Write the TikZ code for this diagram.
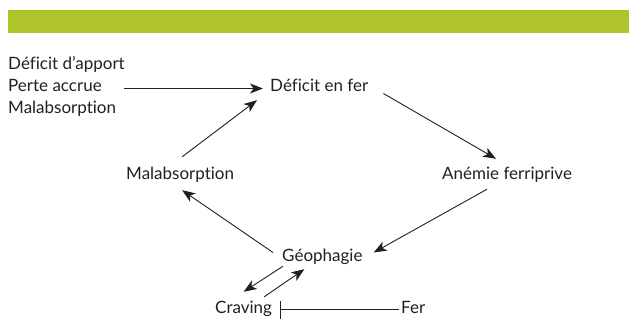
\documentclass[tikz,border=0pt]{standalone}
\usepackage{fontspec}
\setmainfont{Lato}[Ligatures={NoCommon,NoRequired,NoContextual}]
\usepackage{tikz}
\usetikzlibrary{arrows.meta,positioning}
\definecolor{barcolor}{RGB}{174,196,42}
\definecolor{inkcolor}{RGB}{35,31,32}
\tikzset{
  cycle node/.style={
    anchor=base west,
    inner sep=2pt,
    text height=10pt,
    text depth=3pt,
    text=inkcolor,
    font=\fontsize{17}{20}\selectfont
  },
  arrow/.style={
    -{Stealth[length=13pt,width=10pt,inset=3.5pt]},
    draw=inkcolor,
    line width=0.9pt
  },
  inhibit/.style={
    -{Bar[width=18pt,line width=0.9pt]},
    draw=inkcolor,
    line width=0.9pt
  }
}
\begin{document}
\begin{tikzpicture}[x=1pt,y=1pt]
  \useasboundingbox (0,0) rectangle (629,330);
  % header band
  \fill[barcolor] (8,297) rectangle (629,320);

  % causes
  \node[cycle node] (apport) at (6,260) {Déficit d’apport};
  \node[cycle node] (perte) at (6,238) {Perte accrue};
  \node[cycle node] (malcause) at (6,216) {Malabsorption};

  % cycle
  \node[cycle node] (deficit) at (268,238) {Déficit en fer};
  \node[cycle node] (anemie) at (440,151) {Anémie ferriprive};
  \node[cycle node] (geo) at (280,69) {Géophagie};
  \node[cycle node] (malab) at (124,151) {Malabsorption};
  \node[cycle node] (craving) at (213,17) {Craving};
  \node[cycle node] (fer) at (399,17) {Fer};

  \draw[arrow, shorten <=20pt, shorten >=5pt] (perte) -- (deficit);
  \draw[arrow] ([shift={(13pt,-5pt)}]deficit.east) -- ([shift={(-11pt,8pt)}]anemie.north);
  \draw[arrow] ([shift={(-20pt,-5pt)}]anemie.south) -- ([shift={(9pt,5pt)}]geo.east);
  \draw[arrow] ([shift={(-7pt,5pt)}]geo.west) -- ([shift={(2pt,-6pt)}]malab.south);
  \draw[arrow] ([shift={(2pt,10pt)}]malab.north) -- ([shift={(-11pt,-3pt)}]deficit.south west);
  \draw[arrow] ([shift={(3pt,0pt)}]geo.south west) -- ([shift={(0pt,9pt)}]craving.north);
  \draw[arrow] ([shift={(-10pt,4pt)}]craving.north east) -- ([shift={(-18pt,-3pt)}]geo.south);
  \draw[inhibit, shorten >=6pt] (fer) -- (craving);
\end{tikzpicture}
\end{document}
